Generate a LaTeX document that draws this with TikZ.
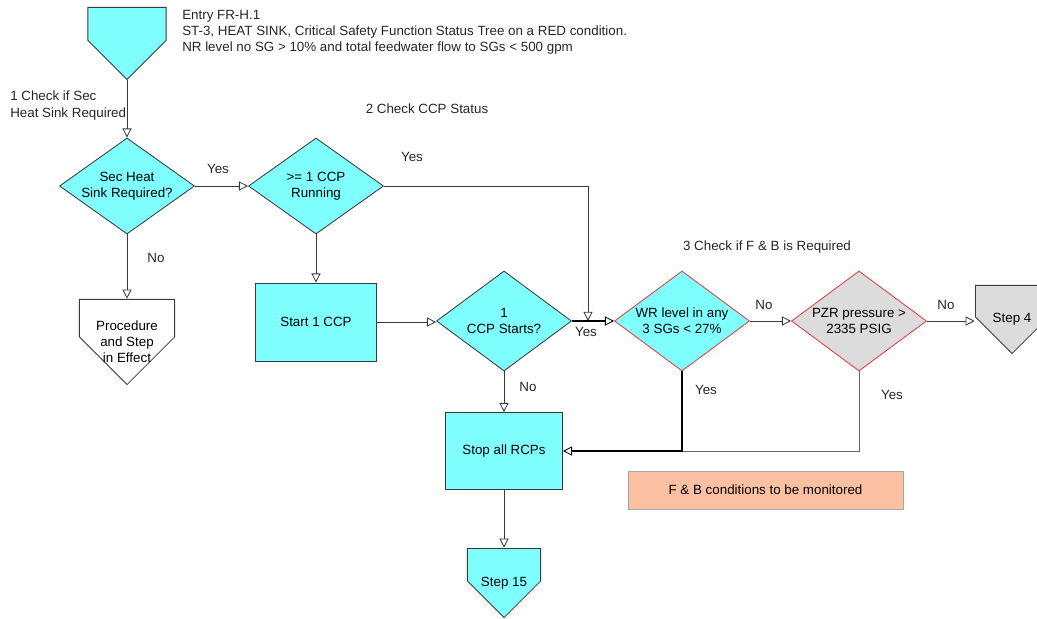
\documentclass[tikz,border=0pt]{standalone}
\usepackage{fontspec}
\setmainfont{Liberation Sans}
\usetikzlibrary{shapes.geometric}
\usetikzlibrary{arrows.meta}
\usetikzlibrary{calc}

\definecolor{boxcyan}{HTML}{80FFFF}
\definecolor{boxgray}{HTML}{DCDCDC}
\definecolor{boxsalmon}{HTML}{FBBFA1}
\definecolor{edgered}{HTML}{E03C3C}
\definecolor{linegray}{HTML}{3A3A3A}

\tikzset{
	decision/.style={diamond, aspect=1.4, draw=linegray, fill=boxcyan, line width=0.6pt, inner sep=0pt, minimum width=3.375cm, align=center},
	action/.style={rectangle, draw=linegray, fill=boxcyan, line width=0.6pt, inner sep=0pt, align=center},
	note/.style={rectangle, draw=black!35, fill=boxsalmon, line width=0.6pt, inner sep=0pt, align=center},
	offpage/.style={rectangle, inner sep=0pt, align=center, path picture={
		\draw[linegray, line width=0.6pt, fill=#1]
			let \p1=(path picture bounding box.north west), \p2=(path picture bounding box.south east) in
			(\x1+0.3pt,\y1-0.3pt) -- (\x2-0.3pt,\y1-0.3pt) -- (\x2-0.3pt,{\y2+0.5*(\x2-\x1)})
			-- ({0.5*(\x1+\x2)},\y2+0.3pt) -- (\x1+0.3pt,{\y2+0.5*(\x2-\x1)}) -- cycle;
	}},
	flow/.style={draw=linegray, line width=0.6pt, ->},
	strong/.style={draw=black, line width=1.4pt},
	lbl/.style={inner sep=0pt, text=black!85}
}

\begin{document}
\begin{tikzpicture}[x=0.025cm, y=-0.025cm, font=\fontsize{9.5}{11.5}\selectfont,
	>={Triangle[open, length=6.5pt, width=6.5pt, line width=0.6pt]}]
	\useasboundingbox (0,0) rectangle (1037,618);
	\clip (0,0) rectangle (1037,618);

	% boxes
	\node[offpage=boxcyan, minimum width=1.975cm, minimum height=1.825cm] (entry) at (127,43.5) {};
	\node[decision, minimum height=2.4cm] (sinkreq) at (127,186) {Sec Heat\\Sink Required?};
	\node[decision, minimum height=2.4cm] (ccprun) at (316,186) {>= 1 CCP\\Running};
	\node[offpage=white, minimum width=2.4cm, minimum height=2.15cm] (procstep) at (127,342) {Procedure\\and Step\\in Effect};
	\node[action, minimum width=3.025cm, minimum height=1.95cm] (startccp) at (316,322) {Start 1 CCP};
	\node[decision, minimum height=2.5cm] (ccpstart) at (504,321) {1\\CCP Starts?};
	\node[decision, draw=edgered, minimum height=2.5cm] (wrlevel) at (682,321) {WR level in any\\3 SGs < 27\%};
	\node[decision, draw=edgered, fill=boxgray, minimum height=2.5cm] (pzrpress) at (859,321) {PZR pressure >\\2335 PSIG};
	\node[offpage=boxgray, minimum width=1.85cm, minimum height=1.725cm] (stepfour) at (1012,319.5) {Step 4};
	\node[action, minimum width=2.925cm, minimum height=1.925cm] (stoprcp) at (504,451) {Stop all RCPs};
	\node[offpage=boxcyan, minimum width=1.85cm, minimum height=1.75cm] (stepfifteen) at (504,583) {Step 15};
	\node[note, minimum width=6.875cm, minimum height=0.95cm] (fbnote) at (765.5,490) {F \& B conditions to be monitored};
	\coordinate (ccpjoin) at (588,321);
	\coordinate (wrjoin) at (wrlevel.south |- stoprcp.east);

	% texts
	\node[lbl, anchor=north west, align=left] (entrytext) at (182,10) {Entry FR-H.1\\ST-3, HEAT SINK, Critical Safety Function Status Tree on a RED condition.\\NR level no SG > 10\% and total feedwater flow to SGs < 500 gpm};
	\node[lbl, anchor=north west, align=left] (stepone) at (10,91) {1 Check if Sec\\Heat Sink Required};
	\node[lbl] (steptwo) at (427,109) {2 Check CCP Status};
	\node[lbl] (stepthree) at (767,247) {3 Check if F \& B is Required};

	% connectors
	\draw[flow] (entry.south) -- (sinkreq.north);
	\draw[flow] (sinkreq.east) -- (ccprun.west);
	\draw[flow] (sinkreq.south) -- (procstep.north);
	\draw[flow] (ccprun.east) -| (ccpjoin);
	\draw[flow] (ccprun.south) -- (startccp.north);
	\draw[flow] (startccp.east) -- (startccp.east -| ccpstart.west);
	\draw[flow, strong] (ccpstart.east) -- (wrlevel.west);
	\draw[flow] (wrlevel.east) -- (pzrpress.west);
	\draw[flow] (pzrpress.east) -- (pzrpress.east -| stepfour.west);
	\draw[flow] (ccpstart.south) -- (stoprcp.north);
	\draw[draw=black!60, line width=0.6pt] (pzrpress.south) |- (wrjoin);
	\draw[flow, strong] (wrlevel.south) |- (stoprcp.east);
	\draw[flow] (stoprcp.south) -- (stepfifteen.north);

	% labels
	\node[lbl] (yesone) at (218,169) {Yes};
	\node[lbl] (noone) at (156,258) {No};
	\node[lbl] (yestwo) at (412,157) {Yes};
	\node[lbl] (yesthree) at (586,332) {Yes};
	\node[lbl] (nothree) at (528,387) {No};
	\node[lbl] (nofour) at (764,305) {No};
	\node[lbl] (nofive) at (946,305) {No};
	\node[lbl] (yesfour) at (706,390) {Yes};
	\node[lbl] (yesfive) at (892,395) {Yes};
\end{tikzpicture}
\end{document}
